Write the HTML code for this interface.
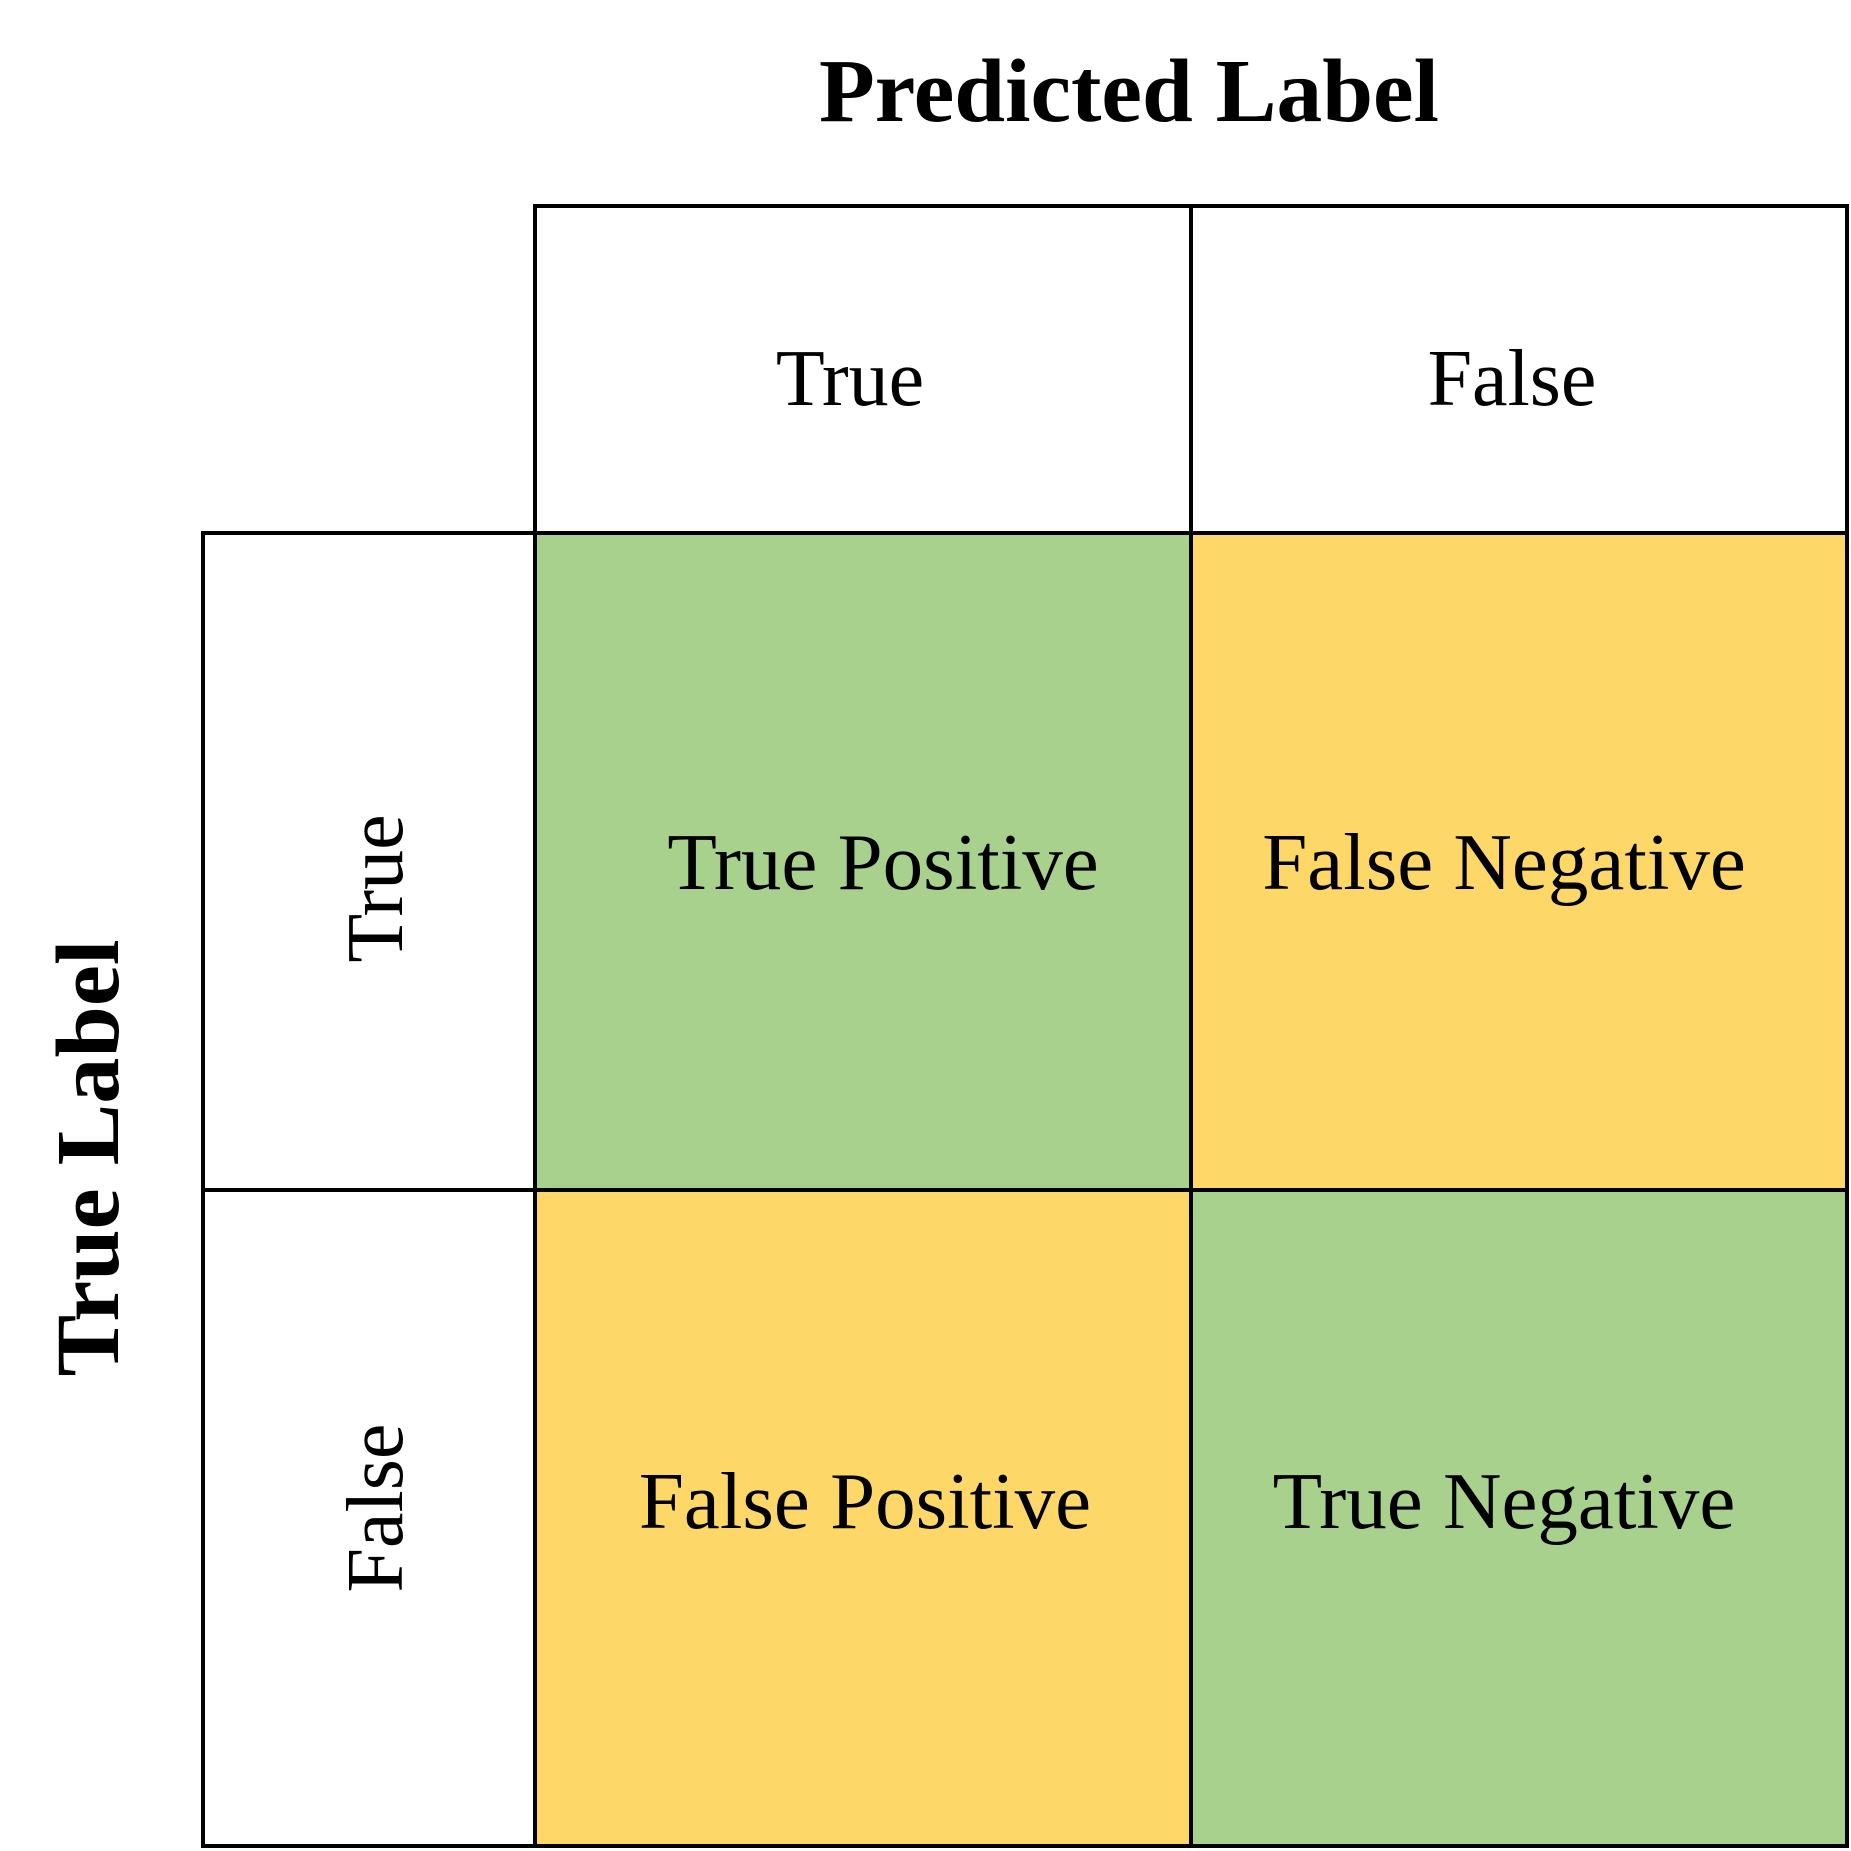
<!DOCTYPE html>
<html><head><meta charset="utf-8"><style>
html,body{margin:0;padding:0;background:#fff;}
svg{display:block;}
text{font-family:"Liberation Serif",serif;fill:#000;}
</style></head><body>
<svg id="chart" width="1851" height="1851" viewBox="0 0 1851 1851" xmlns="http://www.w3.org/2000/svg">
<text x="1129" y="121" font-size="90" font-weight="bold" text-anchor="middle" textLength="620" lengthAdjust="spacingAndGlyphs">Predicted Label</text>
<text transform="translate(118,1158) rotate(-90)" font-size="90" font-weight="bold" text-anchor="middle" textLength="437" lengthAdjust="spacingAndGlyphs">True Label</text>
<g id="cells"></g>
<g id="labels"></g>
</svg>
<script>
const predictedLabels = ["True", "False"];
const trueLabels = ["True", "False"];
const cellNames = [["True Positive", "False Negative"], ["False Positive", "True Negative"]];
const cellColors = [["#a9d18e", "#fdd868"], ["#fdd868", "#a9d18e"]];

const colX = [535, 1191, 1847];
const rowY = [533, 1190, 1846];
const headerTop = 206, leftX = 203;
const NS = "http://www.w3.org/2000/svg";
const cellsG = document.getElementById("cells");
const labelsG = document.getElementById("labels");
function mk(tag, attrs, parent){ const e=document.createElementNS(NS,tag); for(const k in attrs) e.setAttribute(k,attrs[k]); parent.appendChild(e); return e; }

const headerOffsets = [-13, -7];
const rowOffsets = [27, -10];
const cellOffsets = [[20, -15], [2, -15]];

predictedLabels.forEach((lab,j)=>{
  const r = mk("rect",{x:colX[j],y:headerTop,width:colX[j+1]-colX[j],height:rowY[0]-headerTop,fill:"#fff",stroke:"#000","stroke-width":4},cellsG);
  
  
  const t = mk("text",{x:(colX[j]+colX[j+1])/2+headerOffsets[j],y:405,"font-size":80,"text-anchor":"middle"},labelsG);
  t.textContent = lab;
  
  
});
trueLabels.forEach((lab,i)=>{
  const r = mk("rect",{x:leftX,y:rowY[i],width:colX[0]-leftX,height:rowY[i+1]-rowY[i],fill:"#fff",stroke:"#000","stroke-width":4},cellsG);
  
  
  const cy=(rowY[i]+rowY[i+1])/2 + rowOffsets[i];
  const t = mk("text",{transform:`translate(402,${cy}) rotate(-90)`,"font-size":80,"text-anchor":"middle"},labelsG);
  t.textContent = lab;
  
  
});
cellNames.forEach((row,i)=>{
  row.forEach((name,j)=>{
    const r = mk("rect",{x:colX[j],y:rowY[i],width:colX[j+1]-colX[j],height:rowY[i+1]-rowY[i],fill:cellColors[i][j],stroke:"#000","stroke-width":4},cellsG);
    
    
    const cx=(colX[j]+colX[j+1])/2 + cellOffsets[i][j];
    const by = i===0 ? 889 : 1528;
    const t = mk("text",{x:cx,y:by,"font-size":81,"text-anchor":"middle"},labelsG);
    t.textContent = name;
    
    
  });
});
</script>
</body></html>
